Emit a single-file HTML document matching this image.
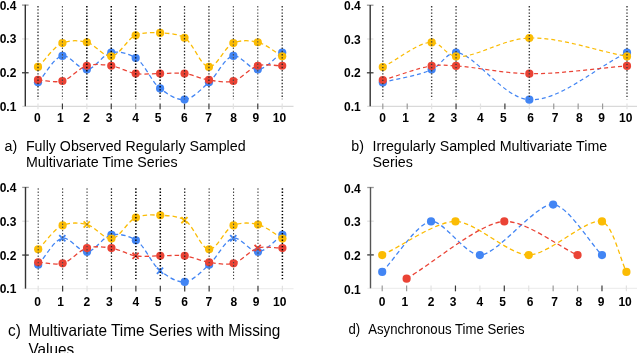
<!DOCTYPE html>
<html><head><meta charset="utf-8"><style>
html,body{margin:0;padding:0;background:#fff;width:640px;height:353px;overflow:hidden}
svg{display:block;will-change:transform}
text{font-family:"Liberation Sans",sans-serif;fill:#000}
.yl{font-size:12px;font-weight:700}
.xl{font-size:12px;font-weight:700}
.cap{font-size:14.22px;fill:#000}
.capc{font-size:15.38px;fill:#000}
.capd{font-size:13.17px;fill:#000}
</style></head><body>
<svg width="640" height="353" viewBox="0 0 640 353">
<line x1="22.3" y1="106.30" x2="293.5" y2="106.30" stroke="#d9d9d9" stroke-width="1.2"/>
<line x1="38.00" y1="103.50" x2="38.00" y2="109.30" stroke="#e2e2e2" stroke-width="1.2"/>
<line x1="62.42" y1="103.50" x2="62.42" y2="109.30" stroke="#3a3a3a" stroke-width="1.2"/>
<line x1="86.84" y1="103.50" x2="86.84" y2="109.30" stroke="#e2e2e2" stroke-width="1.2"/>
<line x1="111.26" y1="103.50" x2="111.26" y2="109.30" stroke="#3a3a3a" stroke-width="1.2"/>
<line x1="135.68" y1="103.50" x2="135.68" y2="109.30" stroke="#9a9a9a" stroke-width="1.2"/>
<line x1="160.10" y1="103.50" x2="160.10" y2="109.30" stroke="#3a3a3a" stroke-width="1.2"/>
<line x1="184.52" y1="103.50" x2="184.52" y2="109.30" stroke="#3a3a3a" stroke-width="1.2"/>
<line x1="208.94" y1="103.50" x2="208.94" y2="109.30" stroke="#3a3a3a" stroke-width="1.2"/>
<line x1="233.36" y1="103.50" x2="233.36" y2="109.30" stroke="#e2e2e2" stroke-width="1.2"/>
<line x1="257.78" y1="103.50" x2="257.78" y2="109.30" stroke="#3a3a3a" stroke-width="1.2"/>
<line x1="282.20" y1="103.50" x2="282.20" y2="109.30" stroke="#e2e2e2" stroke-width="1.2"/>
<line x1="22.0" y1="72.77" x2="28.6" y2="72.77" stroke="#3a3a3a" stroke-width="1.3"/>
<line x1="22.0" y1="38.93" x2="28.6" y2="38.93" stroke="#e2e2e2" stroke-width="1.3"/>
<line x1="22.0" y1="5.10" x2="28.6" y2="5.10" stroke="#9a9a9a" stroke-width="1.3"/>
<line x1="25.3" y1="4.80" x2="25.3" y2="106.30" stroke="#333" stroke-width="1.4"/>
<text x="16.3" y="9.60" text-anchor="end" class="yl">0.4</text>
<text x="16.3" y="43.43" text-anchor="end" class="yl">0.3</text>
<text x="16.3" y="77.27" text-anchor="end" class="yl">0.2</text>
<text x="16.3" y="111.10" text-anchor="end" class="yl">0.1</text>
<text x="37.40" y="122.3" text-anchor="middle" class="xl">0</text>
<text x="60.42" y="122.3" text-anchor="middle" class="xl">1</text>
<text x="86.54" y="122.3" text-anchor="middle" class="xl">2</text>
<text x="109.06" y="122.3" text-anchor="middle" class="xl">3</text>
<text x="135.58" y="122.3" text-anchor="middle" class="xl">4</text>
<text x="158.00" y="122.3" text-anchor="middle" class="xl">5</text>
<text x="184.32" y="122.3" text-anchor="middle" class="xl">6</text>
<text x="208.64" y="122.3" text-anchor="middle" class="xl">7</text>
<text x="233.56" y="122.3" text-anchor="middle" class="xl">8</text>
<text x="255.78" y="122.3" text-anchor="middle" class="xl">9</text>
<text x="279.50" y="122.3" text-anchor="middle" class="xl">10</text>
<path d="M38.00,82.34 C46.14,73.54 53.70,57.35 62.42,55.95 C70.11,54.72 78.82,69.88 86.84,69.48 C95.11,69.07 102.74,54.24 111.26,52.57 C119.08,51.03 128.26,53.37 135.68,57.98 C144.95,63.74 151.04,81.38 160.10,88.43 C167.61,94.28 176.59,100.34 184.52,99.59 C192.89,98.81 201.14,89.17 208.94,82.34 C217.49,74.85 224.64,57.35 233.36,55.95 C241.05,54.72 249.76,69.88 257.78,69.48 C266.05,69.07 274.06,58.21 282.20,52.57" fill="none" stroke="#4285F4" stroke-width="1.3" stroke-dasharray="4.5 3"/>
<path d="M38.00,66.95 C46.14,59.00 53.48,46.92 62.42,43.09 C69.99,39.86 78.97,40.29 86.84,42.25 C95.29,44.35 103.37,57.03 111.26,56.29 C119.69,55.49 126.91,39.05 135.68,35.31 C143.34,32.05 151.99,32.53 160.10,32.94 C168.27,33.36 177.07,33.43 184.52,37.85 C193.72,43.30 200.57,66.53 208.94,66.95 C216.87,67.34 224.42,46.92 233.36,43.09 C240.93,39.86 249.91,40.29 257.78,42.25 C266.23,44.35 274.06,51.61 282.20,56.29" fill="none" stroke="#FBBC04" stroke-width="1.3" stroke-dasharray="4.5 3"/>
<path d="M38.00,79.97 C46.14,80.31 54.59,83.05 62.42,80.99 C70.92,78.74 78.34,68.20 86.84,65.76 C94.67,63.52 103.22,64.51 111.26,65.76 C119.50,67.04 127.44,72.26 135.68,73.54 C143.72,74.79 151.96,73.54 160.10,73.54 C168.24,73.54 176.45,72.50 184.52,73.54 C192.73,74.61 200.73,78.74 208.94,79.97 C217.01,81.19 225.53,83.05 233.36,80.99 C241.86,78.74 249.28,68.20 257.78,65.76 C265.61,63.52 274.06,65.76 282.20,65.76" fill="none" stroke="#EA4335" stroke-width="1.3" stroke-dasharray="4.5 3"/>
<circle cx="38.00" cy="82.34" r="4.1" fill="#4285F4"/>
<circle cx="62.42" cy="55.95" r="4.1" fill="#4285F4"/>
<circle cx="86.84" cy="69.48" r="4.1" fill="#4285F4"/>
<circle cx="111.26" cy="52.57" r="4.1" fill="#4285F4"/>
<circle cx="135.68" cy="57.98" r="4.1" fill="#4285F4"/>
<circle cx="160.10" cy="88.43" r="4.1" fill="#4285F4"/>
<circle cx="184.52" cy="99.59" r="4.1" fill="#4285F4"/>
<circle cx="208.94" cy="82.34" r="4.1" fill="#4285F4"/>
<circle cx="233.36" cy="55.95" r="4.1" fill="#4285F4"/>
<circle cx="257.78" cy="69.48" r="4.1" fill="#4285F4"/>
<circle cx="282.20" cy="52.57" r="4.1" fill="#4285F4"/>
<circle cx="38.00" cy="66.95" r="4.1" fill="#FBBC04"/>
<circle cx="62.42" cy="43.09" r="4.1" fill="#FBBC04"/>
<circle cx="86.84" cy="42.25" r="4.1" fill="#FBBC04"/>
<circle cx="111.26" cy="56.29" r="4.1" fill="#FBBC04"/>
<circle cx="135.68" cy="35.31" r="4.1" fill="#FBBC04"/>
<circle cx="160.10" cy="32.94" r="4.1" fill="#FBBC04"/>
<circle cx="184.52" cy="37.85" r="4.1" fill="#FBBC04"/>
<circle cx="208.94" cy="66.95" r="4.1" fill="#FBBC04"/>
<circle cx="233.36" cy="43.09" r="4.1" fill="#FBBC04"/>
<circle cx="257.78" cy="42.25" r="4.1" fill="#FBBC04"/>
<circle cx="282.20" cy="56.29" r="4.1" fill="#FBBC04"/>
<circle cx="38.00" cy="79.97" r="4.1" fill="#EA4335"/>
<circle cx="62.42" cy="80.99" r="4.1" fill="#EA4335"/>
<circle cx="86.84" cy="65.76" r="4.1" fill="#EA4335"/>
<circle cx="111.26" cy="65.76" r="4.1" fill="#EA4335"/>
<circle cx="135.68" cy="73.54" r="4.1" fill="#EA4335"/>
<circle cx="160.10" cy="73.54" r="4.1" fill="#EA4335"/>
<circle cx="184.52" cy="73.54" r="4.1" fill="#EA4335"/>
<circle cx="208.94" cy="79.97" r="4.1" fill="#EA4335"/>
<circle cx="233.36" cy="80.99" r="4.1" fill="#EA4335"/>
<circle cx="257.78" cy="65.76" r="4.1" fill="#EA4335"/>
<circle cx="282.20" cy="65.76" r="4.1" fill="#EA4335"/>
<line x1="38.00" y1="6.00" x2="38.00" y2="99.30" stroke="#222" stroke-width="1.25" stroke-dasharray="1.4 1.8"/>
<line x1="62.42" y1="6.00" x2="62.42" y2="99.30" stroke="#444" stroke-width="1.1" stroke-dasharray="1.4 1.8"/>
<line x1="86.84" y1="6.00" x2="86.84" y2="99.30" stroke="#000" stroke-width="1.5" stroke-dasharray="1.4 1.8"/>
<line x1="111.26" y1="6.00" x2="111.26" y2="99.30" stroke="#000" stroke-width="1.5" stroke-dasharray="1.4 1.8"/>
<line x1="135.68" y1="6.00" x2="135.68" y2="99.30" stroke="#000" stroke-width="1.5" stroke-dasharray="1.4 1.8"/>
<line x1="160.10" y1="6.00" x2="160.10" y2="99.30" stroke="#000" stroke-width="1.5" stroke-dasharray="1.4 1.8"/>
<line x1="184.52" y1="6.00" x2="184.52" y2="99.30" stroke="#222" stroke-width="1.25" stroke-dasharray="1.4 1.8"/>
<line x1="208.94" y1="6.00" x2="208.94" y2="99.30" stroke="#222" stroke-width="1.25" stroke-dasharray="1.4 1.8"/>
<line x1="233.36" y1="6.00" x2="233.36" y2="99.30" stroke="#444" stroke-width="1.1" stroke-dasharray="1.4 1.8"/>
<line x1="257.78" y1="6.00" x2="257.78" y2="99.30" stroke="#444" stroke-width="1.1" stroke-dasharray="1.4 1.8"/>
<line x1="282.20" y1="6.00" x2="282.20" y2="99.30" stroke="#222" stroke-width="1.25" stroke-dasharray="1.4 1.8"/>
<line x1="367.2" y1="106.30" x2="637" y2="106.30" stroke="#d9d9d9" stroke-width="1.2"/>
<line x1="382.80" y1="103.50" x2="382.80" y2="109.30" stroke="#9a9a9a" stroke-width="1.2"/>
<line x1="407.22" y1="103.50" x2="407.22" y2="109.30" stroke="#9a9a9a" stroke-width="1.2"/>
<line x1="431.64" y1="103.50" x2="431.64" y2="109.30" stroke="#e2e2e2" stroke-width="1.2"/>
<line x1="456.06" y1="103.50" x2="456.06" y2="109.30" stroke="#3a3a3a" stroke-width="1.2"/>
<line x1="480.48" y1="103.50" x2="480.48" y2="109.30" stroke="#e2e2e2" stroke-width="1.2"/>
<line x1="504.90" y1="103.50" x2="504.90" y2="109.30" stroke="#3a3a3a" stroke-width="1.2"/>
<line x1="529.32" y1="103.50" x2="529.32" y2="109.30" stroke="#e2e2e2" stroke-width="1.2"/>
<line x1="553.74" y1="103.50" x2="553.74" y2="109.30" stroke="#9a9a9a" stroke-width="1.2"/>
<line x1="578.16" y1="103.50" x2="578.16" y2="109.30" stroke="#9a9a9a" stroke-width="1.2"/>
<line x1="602.58" y1="103.50" x2="602.58" y2="109.30" stroke="#9a9a9a" stroke-width="1.2"/>
<line x1="627.00" y1="103.50" x2="627.00" y2="109.30" stroke="#e2e2e2" stroke-width="1.2"/>
<line x1="366.9" y1="72.80" x2="373.5" y2="72.80" stroke="#3a3a3a" stroke-width="1.3"/>
<line x1="366.9" y1="39.00" x2="373.5" y2="39.00" stroke="#e2e2e2" stroke-width="1.3"/>
<line x1="366.9" y1="5.20" x2="373.5" y2="5.20" stroke="#9a9a9a" stroke-width="1.3"/>
<line x1="370.2" y1="4.90" x2="370.2" y2="106.30" stroke="#333" stroke-width="1.4"/>
<text x="360.7" y="9.70" text-anchor="end" class="yl">0.4</text>
<text x="360.7" y="43.50" text-anchor="end" class="yl">0.3</text>
<text x="360.7" y="77.30" text-anchor="end" class="yl">0.2</text>
<text x="360.7" y="111.10" text-anchor="end" class="yl">0.1</text>
<text x="382.60" y="122.3" text-anchor="middle" class="xl">0</text>
<text x="405.47" y="122.3" text-anchor="middle" class="xl">1</text>
<text x="431.64" y="122.3" text-anchor="middle" class="xl">2</text>
<text x="453.76" y="122.3" text-anchor="middle" class="xl">3</text>
<text x="480.38" y="122.3" text-anchor="middle" class="xl">4</text>
<text x="503.30" y="122.3" text-anchor="middle" class="xl">5</text>
<text x="530.62" y="122.3" text-anchor="middle" class="xl">6</text>
<text x="555.14" y="122.3" text-anchor="middle" class="xl">7</text>
<text x="579.46" y="122.3" text-anchor="middle" class="xl">8</text>
<text x="601.68" y="122.3" text-anchor="middle" class="xl">9</text>
<text x="625.70" y="122.3" text-anchor="middle" class="xl">10</text>
<path d="M382.80,82.46 C399.08,78.18 418.57,75.64 431.64,69.62 C441.67,65.01 445.66,52.90 456.06,52.72 C473.86,52.41 502.65,98.07 529.32,99.70 C559.08,101.52 594.44,68.38 627.00,52.72" fill="none" stroke="#4285F4" stroke-width="1.2" stroke-dasharray="4 3"/>
<path d="M382.80,67.09 C399.08,58.86 418.23,42.05 431.64,42.41 C441.26,42.67 445.35,54.96 456.06,56.44 C473.60,58.86 503.05,38.80 529.32,38.02 C559.45,37.11 594.44,50.30 627.00,56.44" fill="none" stroke="#FBBC04" stroke-width="1.2" stroke-dasharray="4 3"/>
<path d="M382.80,80.10 C399.08,75.37 418.04,67.84 431.64,65.90 C441.07,64.56 445.76,65.36 456.06,65.90 C473.96,66.85 503.13,73.33 529.32,73.68 C559.53,74.07 594.44,68.49 627.00,65.90" fill="none" stroke="#EA4335" stroke-width="1.2" stroke-dasharray="4 3"/>
<circle cx="382.80" cy="82.46" r="4.1" fill="#4285F4"/>
<circle cx="431.64" cy="69.62" r="4.1" fill="#4285F4"/>
<circle cx="456.06" cy="52.72" r="4.1" fill="#4285F4"/>
<circle cx="529.32" cy="99.70" r="4.1" fill="#4285F4"/>
<circle cx="627.00" cy="52.72" r="4.1" fill="#4285F4"/>
<circle cx="382.80" cy="67.09" r="4.1" fill="#FBBC04"/>
<circle cx="431.64" cy="42.41" r="4.1" fill="#FBBC04"/>
<circle cx="456.06" cy="56.44" r="4.1" fill="#FBBC04"/>
<circle cx="529.32" cy="38.02" r="4.1" fill="#FBBC04"/>
<circle cx="627.00" cy="56.44" r="4.1" fill="#FBBC04"/>
<circle cx="382.80" cy="80.10" r="4.1" fill="#EA4335"/>
<circle cx="431.64" cy="65.90" r="4.1" fill="#EA4335"/>
<circle cx="456.06" cy="65.90" r="4.1" fill="#EA4335"/>
<circle cx="529.32" cy="73.68" r="4.1" fill="#EA4335"/>
<circle cx="627.00" cy="65.90" r="4.1" fill="#EA4335"/>
<line x1="382.80" y1="6.10" x2="382.80" y2="99.30" stroke="#3a3a3a" stroke-width="1.4" stroke-dasharray="1.3 1.9"/>
<line x1="431.64" y1="6.10" x2="431.64" y2="99.30" stroke="#3a3a3a" stroke-width="1.4" stroke-dasharray="1.3 1.9"/>
<line x1="456.06" y1="6.10" x2="456.06" y2="99.30" stroke="#3a3a3a" stroke-width="1.4" stroke-dasharray="1.3 1.9"/>
<line x1="529.32" y1="6.10" x2="529.32" y2="99.30" stroke="#3a3a3a" stroke-width="1.4" stroke-dasharray="1.3 1.9"/>
<line x1="627.00" y1="6.10" x2="627.00" y2="99.30" stroke="#3a3a3a" stroke-width="1.4" stroke-dasharray="1.3 1.9"/>
<line x1="22.5" y1="288.60" x2="293.5" y2="288.60" stroke="#eeeeee" stroke-width="1.2"/>
<line x1="38.20" y1="285.80" x2="38.20" y2="291.60" stroke="#e2e2e2" stroke-width="1.2"/>
<line x1="62.62" y1="285.80" x2="62.62" y2="291.60" stroke="#3a3a3a" stroke-width="1.2"/>
<line x1="87.04" y1="285.80" x2="87.04" y2="291.60" stroke="#e2e2e2" stroke-width="1.2"/>
<line x1="111.46" y1="285.80" x2="111.46" y2="291.60" stroke="#3a3a3a" stroke-width="1.2"/>
<line x1="135.88" y1="285.80" x2="135.88" y2="291.60" stroke="#3a3a3a" stroke-width="1.2"/>
<line x1="160.30" y1="285.80" x2="160.30" y2="291.60" stroke="#3a3a3a" stroke-width="1.2"/>
<line x1="184.72" y1="285.80" x2="184.72" y2="291.60" stroke="#3a3a3a" stroke-width="1.2"/>
<line x1="209.14" y1="285.80" x2="209.14" y2="291.60" stroke="#3a3a3a" stroke-width="1.2"/>
<line x1="233.56" y1="285.80" x2="233.56" y2="291.60" stroke="#e2e2e2" stroke-width="1.2"/>
<line x1="257.98" y1="285.80" x2="257.98" y2="291.60" stroke="#3a3a3a" stroke-width="1.2"/>
<line x1="282.40" y1="285.80" x2="282.40" y2="291.60" stroke="#e2e2e2" stroke-width="1.2"/>
<line x1="22.2" y1="255.07" x2="28.8" y2="255.07" stroke="#3a3a3a" stroke-width="1.3"/>
<line x1="22.2" y1="221.23" x2="28.8" y2="221.23" stroke="#e2e2e2" stroke-width="1.3"/>
<line x1="22.2" y1="187.40" x2="28.8" y2="187.40" stroke="#9a9a9a" stroke-width="1.3"/>
<line x1="25.5" y1="187.10" x2="25.5" y2="288.60" stroke="#333" stroke-width="1.4"/>
<text x="16.3" y="191.90" text-anchor="end" class="yl">0.4</text>
<text x="16.3" y="225.73" text-anchor="end" class="yl">0.3</text>
<text x="16.3" y="259.57" text-anchor="end" class="yl">0.2</text>
<text x="16.3" y="293.40" text-anchor="end" class="yl">0.1</text>
<text x="37.60" y="305.5" text-anchor="middle" class="xl">0</text>
<text x="60.62" y="305.5" text-anchor="middle" class="xl">1</text>
<text x="86.74" y="305.5" text-anchor="middle" class="xl">2</text>
<text x="109.26" y="305.5" text-anchor="middle" class="xl">3</text>
<text x="135.78" y="305.5" text-anchor="middle" class="xl">4</text>
<text x="158.20" y="305.5" text-anchor="middle" class="xl">5</text>
<text x="184.52" y="305.5" text-anchor="middle" class="xl">6</text>
<text x="208.84" y="305.5" text-anchor="middle" class="xl">7</text>
<text x="233.76" y="305.5" text-anchor="middle" class="xl">8</text>
<text x="255.98" y="305.5" text-anchor="middle" class="xl">9</text>
<text x="279.70" y="305.5" text-anchor="middle" class="xl">10</text>
<path d="M38.20,264.64 C46.34,255.84 53.90,239.65 62.62,238.25 C70.31,237.02 79.02,252.18 87.04,251.78 C95.31,251.37 102.94,236.54 111.46,234.87 C119.28,233.33 128.46,235.67 135.88,240.28 C145.15,246.04 151.24,263.68 160.30,270.73 C167.81,276.58 176.79,282.64 184.72,281.89 C193.09,281.11 201.34,271.47 209.14,264.64 C217.69,257.15 224.84,239.65 233.56,238.25 C241.25,237.02 249.96,252.18 257.98,251.78 C266.25,251.37 274.26,240.51 282.40,234.87" fill="none" stroke="#4285F4" stroke-width="1.3" stroke-dasharray="4.5 3"/>
<path d="M38.20,249.25 C46.34,241.30 53.68,229.22 62.62,225.39 C70.19,222.16 79.17,222.59 87.04,224.55 C95.49,226.65 103.57,239.33 111.46,238.59 C119.89,237.79 127.11,221.35 135.88,217.61 C143.54,214.35 152.19,214.83 160.30,215.24 C168.47,215.66 177.27,215.73 184.72,220.15 C193.92,225.60 200.77,248.83 209.14,249.25 C217.07,249.64 224.62,229.22 233.56,225.39 C241.13,222.16 250.11,222.59 257.98,224.55 C266.43,226.65 274.26,233.91 282.40,238.59" fill="none" stroke="#FBBC04" stroke-width="1.3" stroke-dasharray="4.5 3"/>
<path d="M38.20,262.27 C46.34,262.61 54.79,265.35 62.62,263.29 C71.12,261.04 78.54,250.50 87.04,248.06 C94.87,245.82 103.42,246.81 111.46,248.06 C119.70,249.34 127.64,254.56 135.88,255.84 C143.92,257.09 152.16,255.84 160.30,255.84 C168.44,255.84 176.65,254.80 184.72,255.84 C192.93,256.91 200.93,261.04 209.14,262.27 C217.21,263.49 225.73,265.35 233.56,263.29 C242.06,261.04 249.48,250.50 257.98,248.06 C265.81,245.82 274.26,248.06 282.40,248.06" fill="none" stroke="#EA4335" stroke-width="1.3" stroke-dasharray="4.5 3"/>
<circle cx="38.20" cy="264.64" r="4.1" fill="#4285F4"/>
<path d="M59.22,235.15L65.42,241.35M65.42,235.15L59.22,241.35" stroke="#4285F4" stroke-width="1.8"/>
<circle cx="87.04" cy="251.78" r="4.1" fill="#4285F4"/>
<circle cx="111.46" cy="234.87" r="4.1" fill="#4285F4"/>
<circle cx="135.88" cy="240.28" r="4.1" fill="#4285F4"/>
<path d="M156.90,267.63L163.10,273.83M163.10,267.63L156.90,273.83" stroke="#4285F4" stroke-width="1.8"/>
<circle cx="184.72" cy="281.89" r="4.1" fill="#4285F4"/>
<circle cx="209.14" cy="264.64" r="4.1" fill="#4285F4"/>
<path d="M230.16,235.15L236.36,241.35M236.36,235.15L230.16,241.35" stroke="#4285F4" stroke-width="1.8"/>
<circle cx="257.98" cy="251.78" r="4.1" fill="#4285F4"/>
<circle cx="282.40" cy="234.87" r="4.1" fill="#4285F4"/>
<circle cx="38.20" cy="249.25" r="4.1" fill="#FBBC04"/>
<circle cx="62.62" cy="225.39" r="4.1" fill="#FBBC04"/>
<path d="M83.64,221.45L89.84,227.65M89.84,221.45L83.64,227.65" stroke="#FBBC04" stroke-width="1.8"/>
<circle cx="111.46" cy="238.59" r="4.1" fill="#FBBC04"/>
<circle cx="135.88" cy="217.61" r="4.1" fill="#FBBC04"/>
<circle cx="160.30" cy="215.24" r="4.1" fill="#FBBC04"/>
<path d="M181.32,217.05L187.52,223.25M187.52,217.05L181.32,223.25" stroke="#FBBC04" stroke-width="1.8"/>
<circle cx="209.14" cy="249.25" r="4.1" fill="#FBBC04"/>
<circle cx="233.56" cy="225.39" r="4.1" fill="#FBBC04"/>
<circle cx="257.98" cy="224.55" r="4.1" fill="#FBBC04"/>
<circle cx="282.40" cy="238.59" r="4.1" fill="#FBBC04"/>
<circle cx="38.20" cy="262.27" r="4.1" fill="#EA4335"/>
<circle cx="62.62" cy="263.29" r="4.1" fill="#EA4335"/>
<circle cx="87.04" cy="248.06" r="4.1" fill="#EA4335"/>
<circle cx="111.46" cy="248.06" r="4.1" fill="#EA4335"/>
<path d="M132.48,252.74L138.68,258.94M138.68,252.74L132.48,258.94" stroke="#EA4335" stroke-width="1.8"/>
<circle cx="160.30" cy="255.84" r="4.1" fill="#EA4335"/>
<circle cx="184.72" cy="255.84" r="4.1" fill="#EA4335"/>
<circle cx="209.14" cy="262.27" r="4.1" fill="#EA4335"/>
<circle cx="233.56" cy="263.29" r="4.1" fill="#EA4335"/>
<path d="M254.58,244.96L260.78,251.16M260.78,244.96L254.58,251.16" stroke="#EA4335" stroke-width="1.8"/>
<circle cx="282.40" cy="248.06" r="4.1" fill="#EA4335"/>
<line x1="38.20" y1="188.30" x2="38.20" y2="280.10" stroke="#444" stroke-width="1.1" stroke-dasharray="1.4 1.8"/>
<line x1="62.62" y1="188.30" x2="62.62" y2="280.10" stroke="#444" stroke-width="1.1" stroke-dasharray="1.4 1.8"/>
<line x1="87.04" y1="188.30" x2="87.04" y2="280.10" stroke="#444" stroke-width="1.1" stroke-dasharray="1.4 1.8"/>
<line x1="111.46" y1="188.30" x2="111.46" y2="280.10" stroke="#222" stroke-width="1.25" stroke-dasharray="1.4 1.8"/>
<line x1="135.88" y1="188.30" x2="135.88" y2="280.10" stroke="#000" stroke-width="1.5" stroke-dasharray="1.4 1.8"/>
<line x1="160.30" y1="188.30" x2="160.30" y2="280.10" stroke="#000" stroke-width="1.5" stroke-dasharray="1.4 1.8"/>
<line x1="184.72" y1="188.30" x2="184.72" y2="280.10" stroke="#222" stroke-width="1.25" stroke-dasharray="1.4 1.8"/>
<line x1="209.14" y1="188.30" x2="209.14" y2="280.10" stroke="#444" stroke-width="1.1" stroke-dasharray="1.4 1.8"/>
<line x1="233.56" y1="188.30" x2="233.56" y2="280.10" stroke="#444" stroke-width="1.1" stroke-dasharray="1.4 1.8"/>
<line x1="257.98" y1="188.30" x2="257.98" y2="280.10" stroke="#444" stroke-width="1.1" stroke-dasharray="1.4 1.8"/>
<line x1="282.40" y1="188.30" x2="282.40" y2="280.10" stroke="#000" stroke-width="1.5" stroke-dasharray="1.4 1.8"/>
<line x1="367.5" y1="288.30" x2="637" y2="288.30" stroke="#eeeeee" stroke-width="1.2"/>
<line x1="382.20" y1="285.50" x2="382.20" y2="291.30" stroke="#9a9a9a" stroke-width="1.2"/>
<line x1="406.62" y1="285.50" x2="406.62" y2="291.30" stroke="#9a9a9a" stroke-width="1.2"/>
<line x1="431.04" y1="285.50" x2="431.04" y2="291.30" stroke="#e2e2e2" stroke-width="1.2"/>
<line x1="455.46" y1="285.50" x2="455.46" y2="291.30" stroke="#3a3a3a" stroke-width="1.2"/>
<line x1="479.88" y1="285.50" x2="479.88" y2="291.30" stroke="#e2e2e2" stroke-width="1.2"/>
<line x1="504.30" y1="285.50" x2="504.30" y2="291.30" stroke="#3a3a3a" stroke-width="1.2"/>
<line x1="528.72" y1="285.50" x2="528.72" y2="291.30" stroke="#e2e2e2" stroke-width="1.2"/>
<line x1="553.14" y1="285.50" x2="553.14" y2="291.30" stroke="#9a9a9a" stroke-width="1.2"/>
<line x1="577.56" y1="285.50" x2="577.56" y2="291.30" stroke="#9a9a9a" stroke-width="1.2"/>
<line x1="601.98" y1="285.50" x2="601.98" y2="291.30" stroke="#3a3a3a" stroke-width="1.2"/>
<line x1="626.40" y1="285.50" x2="626.40" y2="291.30" stroke="#e2e2e2" stroke-width="1.2"/>
<line x1="367.2" y1="254.90" x2="373.8" y2="254.90" stroke="#3a3a3a" stroke-width="1.3"/>
<line x1="367.2" y1="221.20" x2="373.8" y2="221.20" stroke="#e2e2e2" stroke-width="1.3"/>
<line x1="367.2" y1="187.50" x2="373.8" y2="187.50" stroke="#9a9a9a" stroke-width="1.3"/>
<line x1="370.5" y1="187.20" x2="370.5" y2="288.30" stroke="#555" stroke-width="1.4"/>
<text x="360.7" y="192.60" text-anchor="end" class="yl">0.4</text>
<text x="360.7" y="226.30" text-anchor="end" class="yl">0.3</text>
<text x="360.7" y="260.00" text-anchor="end" class="yl">0.2</text>
<text x="360.7" y="293.70" text-anchor="end" class="yl">0.1</text>
<text x="382.00" y="305.5" text-anchor="middle" class="xl">0</text>
<text x="404.87" y="305.5" text-anchor="middle" class="xl">1</text>
<text x="431.04" y="305.5" text-anchor="middle" class="xl">2</text>
<text x="453.16" y="305.5" text-anchor="middle" class="xl">3</text>
<text x="479.78" y="305.5" text-anchor="middle" class="xl">4</text>
<text x="502.70" y="305.5" text-anchor="middle" class="xl">5</text>
<text x="530.02" y="305.5" text-anchor="middle" class="xl">6</text>
<text x="554.54" y="305.5" text-anchor="middle" class="xl">7</text>
<text x="578.86" y="305.5" text-anchor="middle" class="xl">8</text>
<text x="601.08" y="305.5" text-anchor="middle" class="xl">9</text>
<text x="625.10" y="305.5" text-anchor="middle" class="xl">10</text>
<path d="M382.20,271.95 C395.22,258.47 417.42,222.76 431.04,221.40 C443.56,220.15 465.54,255.10 479.88,255.10 C497.44,255.10 536.19,202.86 553.14,204.55 C568.20,206.05 588.96,241.62 601.98,255.10" fill="none" stroke="#4285F4" stroke-width="1.3" stroke-dasharray="4.5 3"/>
<path d="M382.20,255.10 C401.74,246.11 435.92,221.40 455.46,221.40 C475.00,221.40 509.18,255.10 528.72,255.10 C548.26,255.10 588.84,216.68 601.98,221.40 C612.94,225.34 619.89,258.47 626.40,271.95" fill="none" stroke="#FBBC04" stroke-width="1.3" stroke-dasharray="4.5 3"/>
<path d="M406.62,278.69 C432.67,263.41 479.82,222.62 504.30,221.40 C524.95,220.37 558.02,246.11 577.56,255.10" fill="none" stroke="#EA4335" stroke-width="1.3" stroke-dasharray="4.5 3"/>
<circle cx="382.20" cy="271.95" r="4.1" fill="#4285F4"/>
<circle cx="431.04" cy="221.40" r="4.1" fill="#4285F4"/>
<circle cx="479.88" cy="255.10" r="4.1" fill="#4285F4"/>
<circle cx="553.14" cy="204.55" r="4.1" fill="#4285F4"/>
<circle cx="601.98" cy="255.10" r="4.1" fill="#4285F4"/>
<circle cx="382.20" cy="255.10" r="4.1" fill="#FBBC04"/>
<circle cx="455.46" cy="221.40" r="4.1" fill="#FBBC04"/>
<circle cx="528.72" cy="255.10" r="4.1" fill="#FBBC04"/>
<circle cx="601.98" cy="221.40" r="4.1" fill="#FBBC04"/>
<circle cx="626.40" cy="271.95" r="4.1" fill="#FBBC04"/>
<circle cx="406.62" cy="278.69" r="4.1" fill="#EA4335"/>
<circle cx="504.30" cy="221.40" r="4.1" fill="#EA4335"/>
<circle cx="577.56" cy="255.10" r="4.1" fill="#EA4335"/>
<text x="4.5" y="150.9" class="cap">a)</text>
<text x="25.9" y="150.9" class="cap">Fully Observed Regularly Sampled</text>
<text x="25.9" y="167.2" class="cap">Multivariate Time Series</text>
<text x="351.3" y="150.9" class="cap">b)</text>
<text x="372.5" y="150.9" class="cap">Irregularly Sampled Multivariate Time</text>
<text x="372.5" y="167.2" class="cap">Series</text>
<text transform="translate(8.0,335.7) scale(1,1.1)" class="capc">c)</text>
<text transform="translate(28.4,335.7) scale(1,1.1)" class="capc">Multivariate Time Series with Missing</text>
<text transform="translate(28.4,354.5) scale(1,1.1)" class="capc">Values</text>
<text transform="translate(348.5,333.6) scale(1,1.12)" class="capd">d)</text>
<text transform="translate(368.2,333.6) scale(1,1.12)" class="capd">Asynchronous Time Series</text>
</svg>
</body></html>
